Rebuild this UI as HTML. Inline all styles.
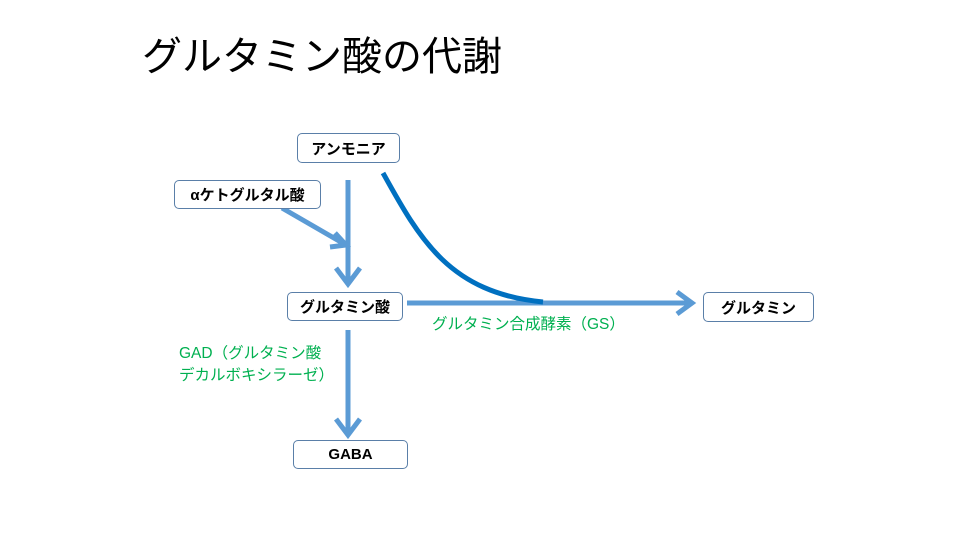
<!DOCTYPE html>
<html><head><meta charset="utf-8"><style>
body{margin:0;width:960px;height:540px;background:#fff;position:relative;overflow:hidden;font-family:"Liberation Sans","Noto Sans CJK JP",sans-serif}
.t{position:absolute;left:142px;top:24px;font-size:40px;color:#000;white-space:nowrap}
.b{position:absolute;box-sizing:border-box;border:1.5px solid #5a7fa8;border-radius:5px;background:#fff;font-weight:bold;font-size:15px;display:flex;align-items:center;justify-content:center;white-space:nowrap}
.g{position:absolute;color:#00b050;font-size:15.5px;white-space:nowrap;line-height:22px}
svg{position:absolute;left:0;top:0}
</style></head><body>
<div class="t">グルタミン酸の代謝</div>
<svg width="960" height="540">
<g stroke="#5b9bd5" stroke-width="5" fill="none">
<line x1="348" y1="180" x2="348" y2="284"/>
<polyline points="336,268 348,284 360,268"/>
<line x1="282" y1="208" x2="346" y2="245"/>
<polyline points="335,233 346,245 330,247"/>
<line x1="407" y1="303" x2="692" y2="303"/>
<polyline points="677,292 692,303 677,314"/>
<line x1="348" y1="330" x2="348" y2="435"/>
<polyline points="336,419 348,435 360,419"/>
</g>
<path d="M383,173 C420,240 450,293 543,302" stroke="#0070c0" stroke-width="5" fill="none"/>
</svg>
<div class="b" style="left:297px;top:133px;width:103px;height:30px">アンモニア</div>
<div class="b" style="left:174px;top:180px;width:147px;height:29px">αケトグルタル酸</div>
<div class="b" style="left:287px;top:292px;width:116px;height:29px">グルタミン酸</div>
<div class="b" style="left:703px;top:292px;width:111px;height:30px">グルタミン</div>
<div class="b" style="left:293px;top:440px;width:115px;height:29px">GABA</div>
<div class="g" style="left:432px;top:314px">グルタミン合成酵素（GS）</div>
<div class="g" style="left:179px;top:343px">GAD（グルタミン酸<br>デカルボキシラーゼ）</div>
</body></html>
